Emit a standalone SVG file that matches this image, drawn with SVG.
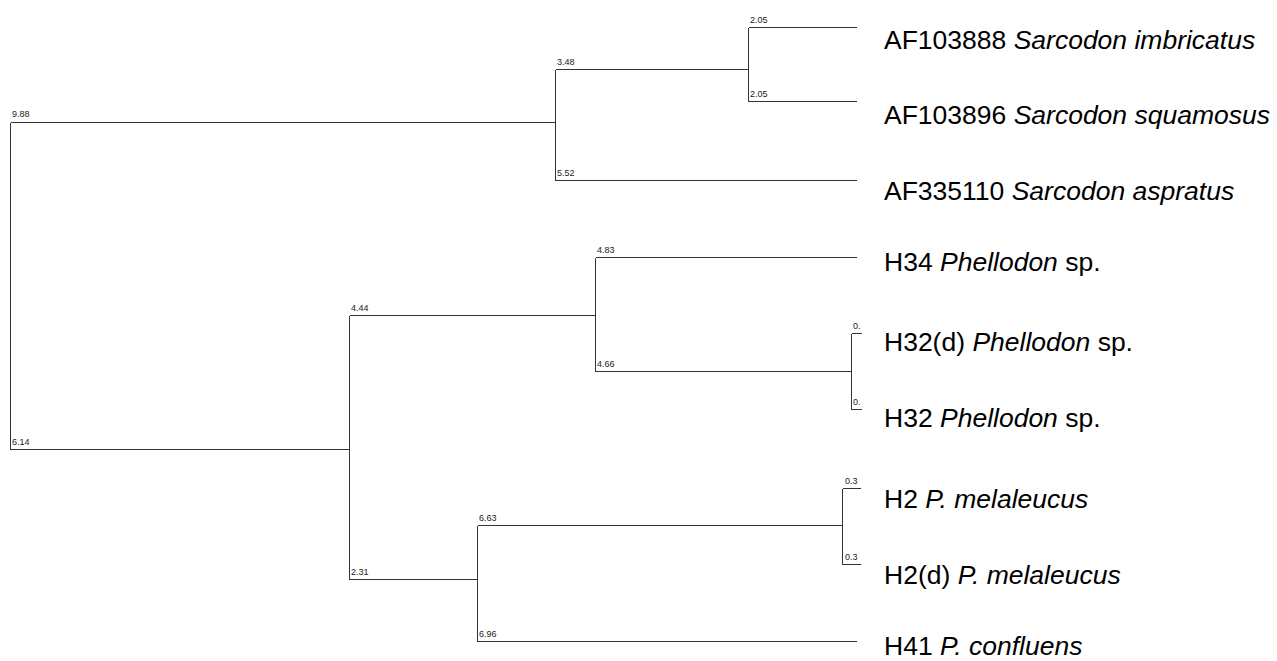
<svg xmlns="http://www.w3.org/2000/svg" width="1277" height="661" viewBox="0 0 1277 661">
<style>
.br{fill:none;stroke:#333;stroke-width:1;shape-rendering:crispEdges}
.bl{font-family:"Liberation Sans",Arial,sans-serif;font-size:9px;fill:#222}
.tx{font-family:"Liberation Sans",Arial,sans-serif;font-size:26.5px;fill:#000}
.it{font-style:italic}
</style>
<rect width="1277" height="661" fill="#fff"/>
<g id="connectors">
<path class="br" d="M10.5 122.5V449.5"/>
<path class="br" d="M10.5 122.5H555.5"/>
<path class="br" d="M10.5 449.5H349.5"/>
<path class="br" d="M555.5 69.5V180.5"/>
<path class="br" d="M555.5 69.5H748.5"/>
<path class="br" d="M555.5 180.5H857"/>
<path class="br" d="M748.5 27.5V101.5"/>
<path class="br" d="M748.5 27.5H857"/>
<path class="br" d="M748.5 101.5H857"/>
<path class="br" d="M349.5 315.5V579.5"/>
<path class="br" d="M349.5 315.5H595.5"/>
<path class="br" d="M349.5 579.5H477.5"/>
<path class="br" d="M595.5 257.5V371.5"/>
<path class="br" d="M595.5 257.5H857"/>
<path class="br" d="M595.5 371.5H851.5"/>
<path class="br" d="M851.5 333.5V409.5"/>
<path class="br" d="M851.5 333.5H862"/>
<path class="br" d="M851.5 409.5H862"/>
<path class="br" d="M477.5 525.5V641.5"/>
<path class="br" d="M477.5 525.5H842.5"/>
<path class="br" d="M477.5 641.5H857"/>
<path class="br" d="M842.5 488.5V564.5"/>
<path class="br" d="M842.5 488.5H861"/>
<path class="br" d="M842.5 564.5H861"/>
</g>
<g id="edge-labels">
<text class="bl" x="12" y="117">9.88</text>
<text class="bl" x="12" y="445">6.14</text>
<text class="bl" x="557" y="65">3.48</text>
<text class="bl" x="557" y="176">5.52</text>
<text class="bl" x="750" y="23">2.05</text>
<text class="bl" x="750" y="97">2.05</text>
<text class="bl" x="351" y="311">4.44</text>
<text class="bl" x="351" y="575">2.31</text>
<text class="bl" x="597" y="253">4.83</text>
<text class="bl" x="597" y="367">4.66</text>
<text class="bl" x="853" y="329">0.</text>
<text class="bl" x="853" y="405">0.</text>
<text class="bl" x="479" y="521">6.63</text>
<text class="bl" x="479" y="637">6.96</text>
<text class="bl" x="845" y="484">0.3</text>
<text class="bl" x="845" y="560">0.3</text>
</g>
<g id="node-AF103888"><text class="tx" x="884" y="49">AF103888 <tspan class="it">Sarcodon imbricatus</tspan></text></g>
<g id="node-AF103896"><text class="tx" x="884" y="124">AF103896 <tspan class="it">Sarcodon squamosus</tspan></text></g>
<g id="node-AF335110"><text class="tx" x="884" y="200">AF335110 <tspan class="it">Sarcodon aspratus</tspan></text></g>
<g id="node-H34"><text class="tx" x="884" y="271">H34 <tspan class="it">Phellodon</tspan> sp.</text></g>
<g id="node-H32d"><text class="tx" x="884" y="351">H32(d) <tspan class="it">Phellodon</tspan> sp.</text></g>
<g id="node-H32"><text class="tx" x="884" y="427">H32 <tspan class="it">Phellodon</tspan> sp.</text></g>
<g id="node-H2"><text class="tx" x="884" y="508">H2 <tspan class="it">P. melaleucus</tspan></text></g>
<g id="node-H2d"><text class="tx" x="884" y="584">H2(d) <tspan class="it">P. melaleucus</tspan></text></g>
<g id="node-H41"><text class="tx" x="884" y="655">H41 <tspan class="it">P. confluens</tspan></text></g>
</svg>
